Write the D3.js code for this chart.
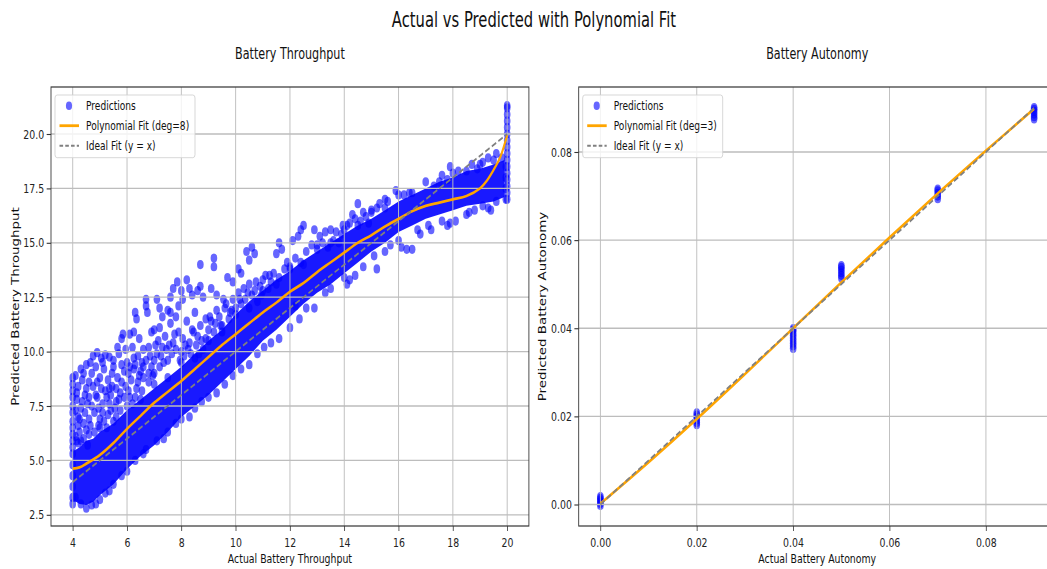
<!DOCTYPE html>
<html lang="en">
<head>
<meta charset="UTF-8">
<title>Actual vs Predicted with Polynomial Fit</title>
<style>
  html, body { margin: 0; padding: 0; background: #fff; }
  svg { display: block; font-family: "DejaVu Sans", sans-serif; }
</style>
</head>
<body>
<div id="chart"></div>
<script src="https://cdn.jsdelivr.net/npm/d3@7/dist/d3.min.js"></script>
<script>
// ---- data ----
// dense core of the throughput predictions (where markers fully overlap)
const throughputBandX  = [4.0, 4.25, 4.5, 4.75, 5.0, 5.5, 6.0, 6.5, 7.0, 7.5, 8.0, 8.5, 9.0, 9.5, 10.0, 10.5, 11.0, 11.5, 12.0, 12.5, 13.0, 13.5, 14.0, 14.5, 15.0, 15.5, 16.0, 16.5, 17.0, 17.5, 18.0, 18.5, 19.0, 19.5, 19.9];
const throughputBandLo = [3.2, 3.0, 2.95, 3.1, 3.4, 3.9, 4.6, 5.2, 5.7, 6.3, 7.0, 7.5, 8.0, 8.6, 9.2, 9.8, 10.5, 11.0, 11.6, 12.2, 12.7, 13.1, 13.6, 14.1, 14.6, 15.0, 15.5, 15.8, 16.1, 16.3, 16.5, 16.7, 16.8, 16.9, 17.1];
const throughputBandHi = [5.4, 5.6, 5.9, 6.0, 6.3, 6.7, 7.3, 7.8, 8.3, 8.8, 9.3, 9.9, 10.5, 11.0, 11.7, 12.3, 12.8, 13.3, 13.7, 14.2, 14.6, 15.0, 15.4, 15.8, 16.1, 16.5, 16.9, 17.2, 17.5, 17.8, 18.0, 18.3, 18.4, 18.6, 18.8];

// individual predictions [actual, predicted] outside the core
const throughputPoints = [
  // x = 4 column
  [4.0,8.8],[4.0,8.5],[4.0,8.2],[4.0,7.9],[4.0,7.5],[4.0,7.2],[4.0,6.8],[4.0,6.5],[4.0,6.2],[4.0,5.9],[4.0,5.6],
  [4.0,5.3],[4.0,4.8],[4.0,4.3],[4.0,3.8],[4.0,3.3],[4.0,3.0],
  // upper-left cloud
  [4.1,8.9],[4.2,8.4],[4.15,7.8],[4.3,9.2],[4.35,8.7],[4.3,7.4],[4.45,8.0],[4.5,9.4],[4.55,7.6],[4.2,7.0],[4.4,6.7],
  [4.6,6.9],[4.25,6.3],[4.5,6.4],[4.6,8.6],[4.7,9.0],[4.15,5.9],[4.4,6.0],
  [4.75,9.8],[4.9,9.95],[5.05,9.7],[5.2,9.85],[5.35,9.75],[5.5,9.6],[4.85,9.3],[5.15,9.2],[5.0,8.8],[4.75,8.4],
  [5.3,8.7],[5.45,9.0],[4.9,7.9],[5.1,7.6],[5.2,8.2],[5.4,8.0],[4.8,7.2],[5.0,6.9],[5.3,7.1],[5.55,7.4],[5.6,8.3],
  [5.7,7.8],[5.8,8.6],[5.9,9.1],
  [4.3,5.9],[4.55,5.7],[4.8,6.3],[4.65,6.6],[4.95,7.4],[5.15,6.8],[5.35,7.6],[5.25,6.5],[5.6,7.0],[5.75,7.3],
  [5.9,7.9],[6.05,8.2],[6.2,7.6],[6.4,8.6],[6.55,8.2],[5.45,8.4],[5.05,8.3],[4.85,8.0],[4.6,7.9],[4.45,7.2],
  [4.2,6.6],[5.65,8.8],[6.0,9.5],[6.25,9.2],[5.5,9.3],
  [4.1,6.1],[4.25,6.9],[4.35,7.7],[4.1,7.3],[4.5,8.3],[4.7,7.5],[4.95,6.6],[5.1,7.2],[5.25,7.9],[5.4,7.3],
  [5.6,7.7],[5.75,8.1],[5.95,8.4],[6.1,7.9],[6.3,7.9],[6.45,8.9],[6.25,9.7],[6.55,9.5],[6.8,9.0],[6.1,9.3],
  [5.35,8.3],[4.9,8.6],[4.65,9.5],[4.4,9.0],[4.15,8.1],[5.1,9.5],[5.8,9.4],[6.85,9.8],[7.05,10.3],[7.25,9.8],
  [5.65,10.2],[5.8,10.6],[5.7,9.9],[5.95,10.1],[5.85,10.8],
  [6.1,10.8],[6.25,10.9],[6.45,10.6],[6.2,10.2],[6.4,9.8],[6.6,10.1],[6.3,9.4],[6.5,9.1],[6.15,8.7],[6.35,8.3],
  [6.6,8.8],[6.05,9.0],[6.7,9.6],[6.8,10.2],[6.9,9.3],[6.3,11.8],[6.35,11.5],[6.7,12.4],[6.7,12.1],[6.75,11.8],
  [6.9,10.9],[7.0,11.0],
  [6.8,8.6],[7.0,9.6],[7.15,10.5],[7.35,9.5],[7.45,10.1],[7.65,9.9],[7.8,10.1],[7.95,9.6],[8.15,10.3],[8.35,9.9],
  [8.45,10.9],[8.65,9.9],[8.9,10.6],[6.6,9.3],[6.95,8.9],[7.6,11.8],
  [7.55,10.3],[7.75,10.8],[8.05,10.6],[8.25,10.1],[8.55,10.3],[8.75,10.5],[9.05,11.6],[9.25,11.3],[9.45,11.2],
  [9.65,12.2],[9.85,11.9],[10.15,12.4],[10.45,12.7],[10.75,13.2],[11.0,13.3],[11.25,13.5],
  [7.1,12.4],[7.2,12.0],[7.3,11.6],[7.6,12.5],[7.7,12.9],[7.85,13.2],[8.0,12.8],[7.9,12.1],[7.5,11.9],[8.05,12.4],
  [7.2,11.1],[7.4,10.7],[7.6,11.3],[7.8,11.6],[7.3,10.2],[7.1,9.9],[7.5,9.6],[7.7,10.4],[7.9,10.9],[8.0,10.0],
  [7.2,9.3],[7.0,9.0],
  [8.2,13.3],[8.4,12.6],[8.3,12.9],[8.6,12.8],[8.8,12.5],[8.7,13.0],[8.7,14.0],[8.2,11.4],[8.4,11.0],[8.5,11.8],
  [8.7,11.2],[8.9,11.5],[8.3,10.4],[8.6,10.7],[8.8,10.1],[8.1,9.8],[9.0,11.0],
  [9.2,14.3],[9.2,13.9],[9.1,12.9],[9.3,12.6],[9.7,13.4],[9.9,13.2],[9.6,12.0],[9.4,11.6],[9.8,11.8],[9.5,11.2],
  [9.2,10.9],[9.9,12.4],
  [9.1,11.4],[9.3,11.9],[9.55,12.4],[9.75,11.5],[10.0,12.0],[10.1,12.7],[10.35,12.4],[10.5,13.1],[10.7,12.8],
  [10.95,12.6],[11.2,12.9],[11.4,13.6],[11.6,13.4],[11.8,13.8],
  [10.1,13.8],[10.2,13.6],[10.4,14.6],[10.5,14.2],[10.7,14.5],[10.6,14.8],[10.3,12.9],[10.6,12.6],[10.9,13.0],
  [11.1,13.5],[11.3,13.2],[10.8,12.3],[10.2,12.2],
  [11.6,15.0],[11.7,14.7],[11.5,14.5],[11.9,14.1],[12.1,15.1],[12.4,15.6],[12.3,15.3],[12.5,15.8],[12.2,14.3],
  [12.0,13.9],[12.6,14.6],[12.4,14.1],
  [12.8,14.9],[13.1,15.3],[13.4,14.8],[12.9,15.6],[14.1,15.8],[14.3,16.3],[14.6,16.0],[15.3,16.8],[15.5,17.0],
  [13.95,15.8],
  [13.3,15.5],[13.5,15.6],[13.7,15.5],[13.9,15.4],[13.2,15.0],[13.6,15.1],[13.0,14.9],[13.8,15.0],
  [14.5,16.8],[14.7,16.4],[14.4,16.1],[14.2,15.9],[14.8,16.2],[15.0,16.5],[15.2,16.6],[14.9,15.9],
  [15.9,17.4],[15.6,16.9],[16.2,17.2],[16.4,17.3],
  [17.3,17.6],[17.9,18.5],[17.6,18.1],[18.2,18.3],[17.8,17.9],
  [18.7,18.6],[19.1,18.7],[19.5,18.8],[19.6,19.1],[19.3,18.9],[18.9,18.4],[19.8,18.9],
  // below the core
  [15.2,13.8],[14.4,13.5],[14.2,13.3],[14.1,13.1],[12.6,12.0],[12.2,12.1],[13.5,12.9],[16.1,14.8],[16.3,14.7],
  [16.5,14.7],[16.0,15.1],[17.8,15.8],[17.6,16.0],[17.9,15.9],[16.8,15.4],[17.2,15.6],[18.5,16.3],[19.1,16.7],
  [19.3,16.6],[18.8,16.5],[19.6,16.9],[15.7,14.9],
  [4.5,2.8],[4.7,2.95],[4.3,3.0],[4.1,3.3],[5.0,3.2],[5.2,3.5],[5.5,3.9],[5.8,4.3],[6.0,4.5],[6.3,5.0],[6.7,5.5],
  [7.1,5.9],[7.5,6.3],[8.0,6.9],[8.5,7.4],[9.0,7.9],[9.6,8.5],[10.2,9.2],[10.8,9.9],[11.3,10.4],[12.0,11.1],
  [6.6,5.3],[7.35,6.0],[7.8,6.7],[8.3,7.0],[8.75,7.7],[9.3,8.1],[9.9,8.9],[10.5,9.4],[11.05,10.2],[11.6,10.6],
  [12.35,11.5],[12.9,12.0],[13.3,12.7],[14.0,13.4],[14.7,13.9],[15.1,14.4],[15.5,14.6],[16.7,15.6],[17.1,15.8],
  [18.1,16.0],[18.6,16.4],[19.4,16.5],[4.85,3.0],[5.35,3.6],
  // upper edge of the core
  [4.2,5.8],[4.6,6.2],[5.0,6.5],[5.5,6.8],[6.0,7.5],[6.5,7.8],[7.0,8.5],[7.5,8.8],[8.0,9.5],[8.5,9.7],[9.0,10.5],
  [9.5,10.9],[10.0,11.7],[10.5,12.0],[11.0,12.8],[11.5,13.1],[12.0,13.8],[12.5,14.0],[13.0,14.7],[13.5,15.0],
  [14.0,15.6],[14.5,15.8],[15.0,16.4],[15.5,16.6],[16.0,17.2],[16.5,17.3],[17.0,17.8],[17.5,17.8],[18.0,18.2],
  [18.5,18.3],[19.0,18.6],
  // x = 20 column
  [19.95,17.0],[19.95,17.5],[19.95,18.0],[19.95,18.5],
  [20.0,17.0],[20.0,17.3],[20.0,17.6],[20.0,17.9],[20.0,18.2],[20.0,18.5],[20.0,18.8],[20.0,19.1],[20.0,19.4],
  [20.0,19.7],[20.0,20.0],[20.0,20.3],[20.0,20.6],[20.0,20.9],[20.0,21.2],[20.0,21.3]
];

// polynomial fit (deg=8)
const throughputFitX = [4.0, 4.25, 4.5, 5.0, 5.5, 6.0, 6.5, 7.0, 7.5, 8.0, 8.5, 9.0, 9.5, 10.0, 10.5, 11.0, 11.5, 12.0, 12.5, 13.0, 13.5, 14.0, 14.5, 15.0, 15.5, 16.0, 16.5, 17.0, 17.5, 18.0, 18.5, 19.0, 19.25, 19.5, 19.75, 20.0];
const throughputFitY = [4.62, 4.68, 4.85, 5.25, 5.8, 6.45, 7.05, 7.65, 8.15, 8.65, 9.2, 9.75, 10.3, 10.8, 11.3, 11.8, 12.25, 12.75, 13.15, 13.65, 14.1, 14.55, 15.0, 15.35, 15.75, 16.1, 16.45, 16.7, 16.85, 17.0, 17.15, 17.5, 17.85, 18.35, 18.95, 19.95];
const throughputIdeal = [4, 20];

const autonomyPoints = [
  [0,-0.0002],[0,0.0002],[0,0.0006],[0,0.001],[0,0.0014],[0,0.0018],
  [0.02,0.0181],[0.02,0.0186],[0.02,0.0192],[0.02,0.0198],[0.02,0.0203],[0.02,0.0208],
  [0.04,0.0354],[0.04,0.036],[0.04,0.0366],[0.04,0.0372],[0.04,0.0378],[0.04,0.0384],[0.04,0.039],[0.04,0.0396],[0.04,0.0399],
  [0.05,0.0514],[0.05,0.052],[0.05,0.0526],[0.05,0.0532],[0.05,0.0538],[0.05,0.0542],
  [0.07,0.0694],[0.07,0.07],[0.07,0.0706],[0.07,0.0712],[0.07,0.0716],
  [0.09,0.0875],[0.09,0.088],[0.09,0.0886],[0.09,0.0892],[0.09,0.0897],[0.09,0.0901]
];
// polynomial fit (deg=3)
const autonomyFitX = [0, 0.01, 0.02, 0.03, 0.04, 0.05, 0.06, 0.07, 0.08, 0.09];
const autonomyFitY = [0.0002, 0.0096, 0.0194, 0.0296, 0.0400, 0.0504, 0.0606, 0.0706, 0.0803, 0.0898];
const autonomyIdeal = [0, 0.09];

const throughputXTicks = [4, 6, 8, 10, 12, 14, 16, 18, 20];
const throughputYTicks = [2.5, 5.0, 7.5, 10.0, 12.5, 15.0, 17.5, 20.0];
const autonomyXTicks = [0, 0.02, 0.04, 0.06, 0.08];
const autonomyYTicks = [0, 0.02, 0.04, 0.06, 0.08];

const legendLabels8 = ["Predictions", "Polynomial Fit (deg=8)", "Ideal Fit (y = x)"];
const legendLabels3 = ["Predictions", "Polynomial Fit (deg=3)", "Ideal Fit (y = x)"];

// ---- layout ----
// the picture is squeezed horizontally, so everything is drawn wide and scaled in x
const SX = 0.72;
const W = 1047, H = 569;
const u = px => px / SX;   // screen x -> drawing x
const R = 4.6;              // marker radius

const svg = d3.select("#chart").append("svg")
    .attr("width", W)
    .attr("height", H);
const root = svg.append("g").attr("transform", `scale(${SX},1)`);

root.append("text")
    .attr("x", u(534)).attr("y", 26.7)
    .attr("text-anchor", "middle")
    .attr("font-size", 20.5)
    .attr("fill", "#111")
    .text("Actual vs Predicted with Polynomial Fit");

function drawPanel(p) {
    const g = root.append("g");
    const x = d3.scaleLinear().domain(p.xDomain).range([u(p.left), u(p.right)]);
    const y = d3.scaleLinear().domain(p.yDomain).range([p.bottom, p.top]);

    g.append("clipPath").attr("id", "clip-" + p.id)
        .append("rect")
        .attr("x", u(p.left)).attr("y", p.top)
        .attr("width", u(p.right) - u(p.left)).attr("height", p.bottom - p.top);
    const plot = g.append("g").attr("clip-path", `url(#clip-${p.id})`);

    // scatter
    if (p.band) {
        const area = d3.area()
            .x((d, i) => x(p.band.x[i]))
            .y0((d, i) => y(p.band.lo[i]))
            .y1((d, i) => y(p.band.hi[i]));
        plot.append("path").datum(p.band.x)
            .attr("d", area)
            .attr("fill", "#0000ff")
            .attr("fill-opacity", 0.9);
    }
    plot.append("g").selectAll("circle")
        .data(p.points)
        .join("circle")
        .attr("cx", d => x(d[0]))
        .attr("cy", d => y(d[1]))
        .attr("r", R)
        .attr("fill", "#0000ff")
        .attr("fill-opacity", 0.6);

    // grid (sits above the scatter, below the lines)
    plot.append("g").selectAll("line")
        .data(p.xTicks)
        .join("line")
        .attr("x1", d => x(d)).attr("x2", d => x(d))
        .attr("y1", p.top).attr("y2", p.bottom)
        .attr("stroke", "#bdbdbd").attr("stroke-width", 1.3);
    plot.append("g").selectAll("line")
        .data(p.yTicks)
        .join("line")
        .attr("x1", u(p.left)).attr("x2", u(p.right))
        .attr("y1", d => y(d)).attr("y2", d => y(d))
        .attr("stroke", "#bdbdbd").attr("stroke-width", 1.3);

    // polynomial fit
    const line = d3.line()
        .x((d, i) => x(p.fitX[i]))
        .y((d, i) => y(p.fitY[i]))
        .curve(d3.curveCatmullRom);
    plot.append("path").datum(p.fitX)
        .attr("d", line)
        .attr("fill", "none")
        .attr("stroke", "#ffa500")
        .attr("stroke-width", 2.8);

    // ideal y = x
    plot.append("line")
        .attr("x1", x(p.ideal[0])).attr("y1", y(p.ideal[0]))
        .attr("x2", x(p.ideal[1])).attr("y2", y(p.ideal[1]))
        .attr("stroke", "#808080")
        .attr("stroke-width", 2)
        .attr("stroke-dasharray", "7,3.5");

    // axes
    const xAxis = g.append("g")
        .attr("transform", `translate(0,${p.bottom})`)
        .call(d3.axisBottom(x).tickValues(p.xTicks).tickFormat(p.xFmt)
            .tickSize(5).tickSizeOuter(0).tickPadding(7));
    const yAxis = g.append("g")
        .attr("transform", `translate(${u(p.left)},0)`)
        .call(d3.axisLeft(y).tickValues(p.yTicks).tickFormat(p.yFmt)
            .tickSize(6).tickSizeOuter(0).tickPadding(3.5));
    [xAxis, yAxis].forEach(a => {
        a.attr("font-family", null).attr("font-size", 13);
        a.select(".domain").remove();
        a.selectAll(".tick line").attr("stroke", "#333").attr("stroke-width", 1.1);
        a.selectAll(".tick text").attr("fill", "#222");
    });

    // spines
    g.append("rect")
        .attr("x", u(p.left)).attr("y", p.top)
        .attr("width", u(p.right) - u(p.left)).attr("height", p.bottom - p.top)
        .attr("fill", "none")
        .attr("stroke", "#333")
        .attr("stroke-width", 1.2);

    // titles
    const cx = (u(p.left) + u(p.right)) / 2;
    g.append("text")
        .attr("x", cx).attr("y", 59.5)
        .attr("text-anchor", "middle").attr("font-size", 15.5).attr("fill", "#111")
        .text(p.title);
    g.append("text")
        .attr("x", cx).attr("y", 563)
        .attr("text-anchor", "middle").attr("font-size", 13).attr("fill", "#111")
        .text(p.xLabel);
    g.append("text")
        .attr("transform", `translate(${u(p.yLabelX)},${(p.top + p.bottom) / 2}) rotate(-90)`)
        .attr("text-anchor", "middle").attr("font-size", 13.4).attr("fill", "#111")
        .text(p.yLabel);

    // legend
    const lg = g.append("g").attr("transform", `translate(${u(p.left + 4)},${p.top + 8})`);
    lg.append("rect")
        .attr("width", u(140)).attr("height", 62.7)
        .attr("rx", 3).attr("ry", 3)
        .attr("fill", "#fff").attr("fill-opacity", 0.8)
        .attr("stroke", "#d0d0d0").attr("stroke-width", 1);
    const rows = lg.selectAll("g.row")
        .data(p.legend)
        .join("g")
        .attr("class", "row")
        .attr("transform", (d, i) => `translate(0,${10.7 + i * 20})`);
    rows.append("text")
        .attr("x", u(31)).attr("dy", "0.35em")
        .attr("font-size", 12.6).attr("fill", "#111")
        .text(d => d);
    lg.append("circle")
        .attr("cx", u(14)).attr("cy", 10.7).attr("r", 4.3)
        .attr("fill", "#0000ff").attr("fill-opacity", 0.6);
    lg.append("line")
        .attr("x1", u(4.5)).attr("x2", u(24)).attr("y1", 30.7).attr("y2", 30.7)
        .attr("stroke", "#ffa500").attr("stroke-width", 2.8);
    lg.append("line")
        .attr("x1", u(4.5)).attr("x2", u(24)).attr("y1", 50.7).attr("y2", 50.7)
        .attr("stroke", "#808080").attr("stroke-width", 2)
        .attr("stroke-dasharray", "5,3");
}

drawPanel({
    id: "throughput",
    left: 51, right: 528.9, top: 87, bottom: 526,
    xDomain: [3.2, 20.8], yDomain: [1.985, 22.16],
    xTicks: throughputXTicks, yTicks: throughputYTicks,
    xFmt: d3.format("d"), yFmt: d3.format(".1f"),
    band: { x: throughputBandX, lo: throughputBandLo, hi: throughputBandHi },
    points: throughputPoints,
    fitX: throughputFitX, fitY: throughputFitY,
    ideal: throughputIdeal,
    title: "Battery Throughput",
    xLabel: "Actual Battery Throughput",
    yLabel: "Predicted Battery Throughput",
    yLabelX: 18.5,
    legend: legendLabels8
});

drawPanel({
    id: "autonomy",
    left: 578.7, right: 1055.8, top: 87, bottom: 526,
    xDomain: [-0.0045, 0.0945], yDomain: [-0.00488, 0.09475],
    xTicks: autonomyXTicks, yTicks: autonomyYTicks,
    xFmt: d3.format(".2f"), yFmt: d3.format(".2f"),
    band: null,
    points: autonomyPoints,
    fitX: autonomyFitX, fitY: autonomyFitY,
    ideal: autonomyIdeal,
    title: "Battery Autonomy",
    xLabel: "Actual Battery Autonomy",
    yLabel: "Predicted Battery Autonomy",
    yLabelX: 546,
    legend: legendLabels3
});
</script>
</body>
</html>
